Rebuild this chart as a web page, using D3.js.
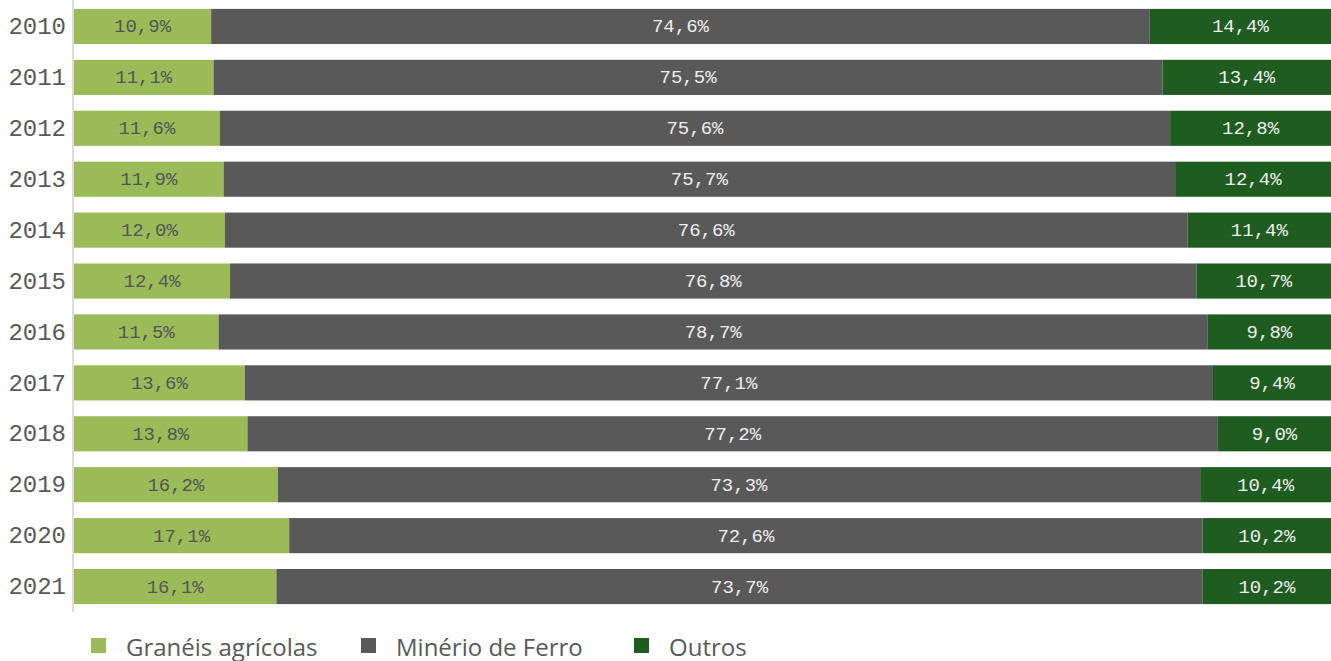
<!DOCTYPE html>
<html><head><meta charset="utf-8">
<script src="https://cdn.jsdelivr.net/npm/d3@7"></script>
<style>body{margin:0;background:#fff;}svg{display:block;}</style>
</head><body>
<script>
const years = ["2010","2011","2012","2013","2014","2015","2016","2017","2018","2019","2020","2021"];
const seriesNames = ["Granéis agrícolas","Minério de Ferro","Outros"];
const graneis = [10.9,11.1,11.6,11.9,12.0,12.4,11.5,13.6,13.8,16.2,17.1,16.1];
const minerio = [74.6,75.5,75.6,75.7,76.6,76.8,78.7,77.1,77.2,73.3,72.6,73.7];
const outros  = [14.4,13.4,12.8,12.4,11.4,10.7,9.8,9.4,9.0,10.4,10.2,10.2];
const colors = ["#9bbb59","#595959","#1e5c20"];
const textColors = ["#555555","#eeeeee","#eeeeee"];

const W = 1331, H = 661;
const svg = d3.select("body").append("svg").attr("width", W).attr("height", H);
const rows = years.map((y,i)=>({year:y, s0:graneis[i], s1:minerio[i], s2:outros[i]}));
const keys = ["s0","s1","s2"];
const stack = d3.stack().keys(keys).offset(d3.stackOffsetExpand);
const stacked = stack(rows);

const x = d3.scaleLinear().domain([0,1]).range([74, 1331]);
const y = d3.scaleBand().domain(years).range([1, 612]).paddingInner(0.31).paddingOuter(0.155);

const fmt = v => v.toFixed(1).replace(".", ",") + "%";
const monoFont = "'Liberation Mono', 'DejaVu Sans Mono', monospace";

stacked.forEach((layer, k) => {
  const g = svg.append("g");
  g.selectAll("rect").data(layer).join("rect")
    .attr("x", d => x(d[0]))
    .attr("y", d => y(d.data.year))
    .attr("width", d => x(d[1]) - x(d[0]))
    .attr("height", y.bandwidth())
    .attr("fill", colors[k]);
  g.selectAll("text").data(layer).join("text")
    .attr("x", d => (x(d[0]) + x(d[1]))/2)
    .attr("y", d => y(d.data.year) + y.bandwidth()/2 + 1)
    .attr("text-anchor","middle")
    .attr("dominant-baseline","central")
    .attr("font-family", monoFont)
    .attr("font-size", 19)
    .attr("fill", textColors[k])
    .text(d => fmt(d.data[keys[k]]));
});

// axis
const yAxis = d3.axisLeft(y).tickSize(0).tickPadding(7);
const ag = svg.append("g").attr("transform","translate(73,0)").call(yAxis);
ag.select(".domain").attr("stroke","#d0d0d0").attr("stroke-width",1.5).attr("d","M0,0V612");
ag.selectAll("text").attr("font-family", monoFont).attr("font-size",24).attr("fill","#595959");

// legend
const legendX = [91, 361, 634];
const lg = svg.append("g");
seriesNames.forEach((n,i)=>{
  lg.append("rect").attr("x",legendX[i]).attr("y",638).attr("width",15).attr("height",15).attr("fill",colors[i]);
  lg.append("text").attr("x",legendX[i]+35).attr("y",646).attr("dominant-baseline","central")
    .attr("font-family","'Open Sans', sans-serif").attr("font-size",24).attr("fill","#595959").text(n);
});
</script>
</body></html>
